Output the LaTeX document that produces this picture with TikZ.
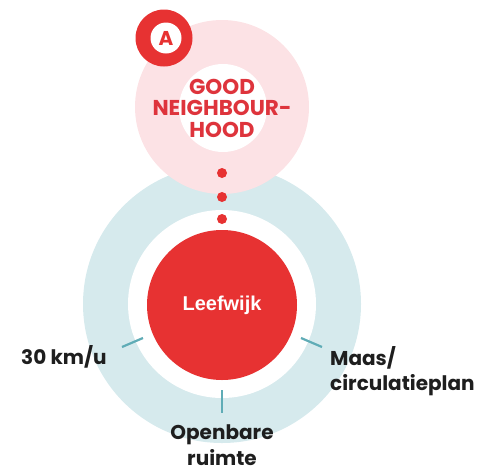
\documentclass[tikz,border=0pt]{standalone}
\usepackage{fontspec}
\usetikzlibrary{calc}
\setmainfont{Poppins}
\newfontfamily\leeffont{Liberation Sans}
\definecolor{pinklt}{RGB}{252,226,229}
\definecolor{bluelt}{RGB}{214,234,237}
\definecolor{redm}{RGB}{231,50,50}
\definecolor{redtxt}{RGB}{222,52,60}
\definecolor{tealc}{RGB}{95,172,182}
\definecolor{darktxt}{RGB}{30,30,30}
\tikzset{
  disc/.style={circle, inner sep=0pt, draw=none},
  tickline/.style={draw=tealc, line width=2.2pt},
  lbl/.style={text=darktxt, font=\bfseries\fontsize{20}{24}\selectfont, inner sep=0pt},
  reddot/.style={circle, fill=redm, minimum size=10pt, inner sep=0pt}
}
\begin{document}
\begin{tikzpicture}[x=1pt,y=-1pt]
\useasboundingbox (0,0) rectangle (481,472);
% lower ring
\node[disc, fill=bluelt, minimum size=278pt] (outer) at (222,304) {};
\node[disc, fill=white, minimum size=188pt] (inner) at (222,304) {};
\node[disc, fill=redm, minimum size=150pt, text=white,
      font=\leeffont\bfseries\fontsize{20}{22}\selectfont] (core) at (222,305) {Leefwijk};
% upper ring
\node[disc, fill=pinklt, minimum size=174pt] (gn) at (222,107) {};
\node[disc, fill=white, minimum size=88pt] (gninner) at (223,108) {};
\node[text=redtxt, align=center, font=\bfseries\fontsize{21.5}{21.5}\selectfont, inner sep=0pt] (gntext) at (222,108) {GOOD\\NEIGHBOUR-\\HOOD};
% badge
\node[disc, fill=redm, minimum size=57pt] (badge) at (164,38) {};
\node[disc, fill=white, minimum size=31pt, text=redm, font=\bfseries\fontsize{20}{20}\selectfont] (badgeA) at (166,38) {A};
% dots
\node[reddot] (d1) at (222,173) {};
\node[reddot] (d2) at (222,197) {};
\node[reddot] (d3) at (222,219) {};
% ticks
\coordinate (t1a) at ($(222,304)+(0,86)$);
\coordinate (t1b) at ($(222,304)+(0,109)$);
\coordinate (t2a) at ($(222,304)+(-79,34)$);
\coordinate (t2b) at ($(222,304)+(-100,43)$);
\coordinate (t3a) at ($(222,304)+(79,34)$);
\coordinate (t3b) at ($(222,304)+(100,43)$);
\draw[tickline] (t1a) -- (t1b);
\draw[tickline] (t2a) -- (t2b);
\draw[tickline] (t3a) -- (t3b);
% labels
\node[lbl, anchor=base west] (l1) at (21,364) {30 km/u};
\node[lbl, anchor=base west] (l2) at (330,365) {Maas/};
\node[lbl, anchor=base west] (l3) at (330,390) {circulatieplan};
\node[lbl, anchor=base] (l4) at (222,439) {Openbare};
\node[lbl, anchor=base] (l5) at (222,465) {ruimte};
\end{tikzpicture}
\end{document}
